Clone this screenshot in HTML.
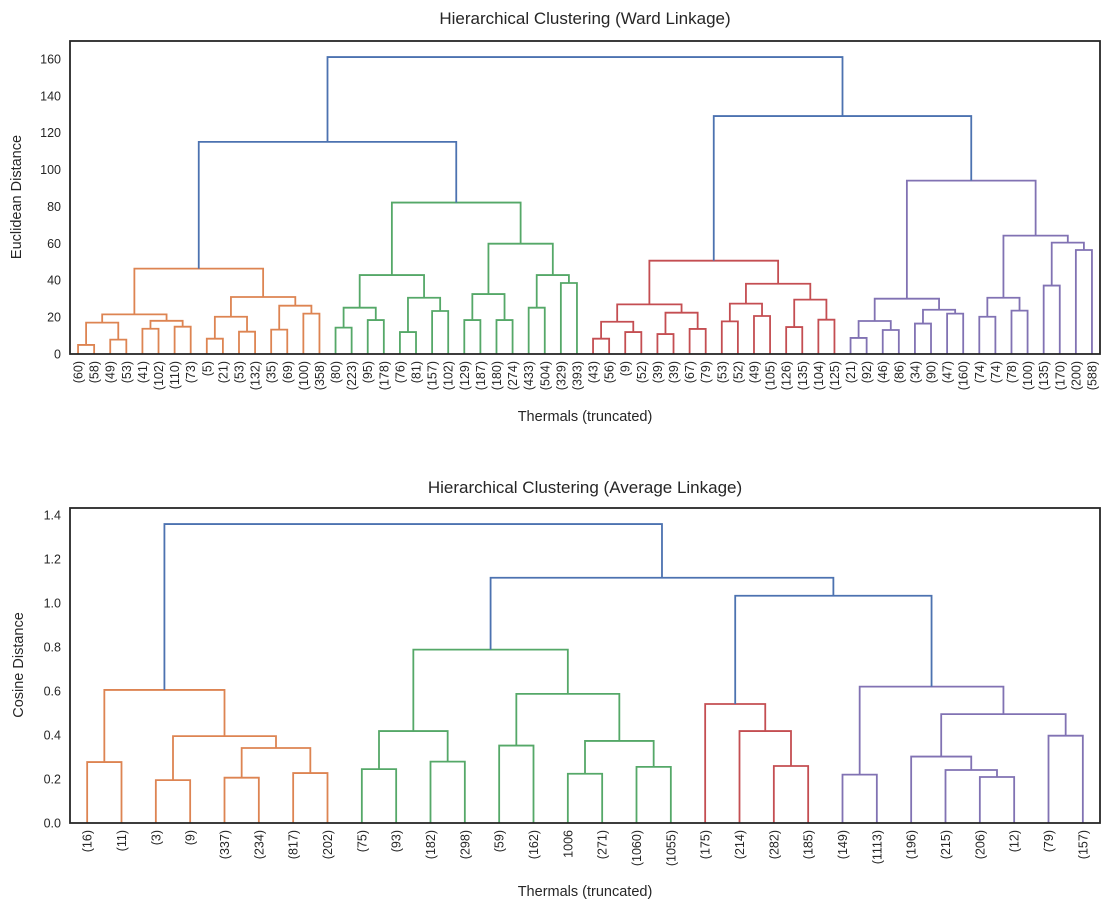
<!DOCTYPE html>
<html><head><meta charset="utf-8"><style>
body{margin:0;background:#fff;}
svg{display:block;font-family:"Liberation Sans",Arial,sans-serif;}
</style></head><body>
<svg id="chart" width="1110" height="910" viewBox="0 0 1110 910" xmlns="http://www.w3.org/2000/svg">
<text x="585" y="24" text-anchor="middle" font-size="17" fill="#262626">Hierarchical Clustering (Ward Linkage)</text>
<text transform="translate(21,197) rotate(-90)" text-anchor="middle" font-size="14.5" fill="#262626">Euclidean Distance</text>
<text x="585" y="421" text-anchor="middle" font-size="14.5" fill="#262626">Thermals (truncated)</text>
<text x="585" y="493" text-anchor="middle" font-size="17" fill="#262626">Hierarchical Clustering (Average Linkage)</text>
<text transform="translate(23,665) rotate(-90)" text-anchor="middle" font-size="14.5" fill="#262626">Cosine Distance</text>
<text x="585" y="896" text-anchor="middle" font-size="14.5" fill="#262626">Thermals (truncated)</text>
<g id="top"></g>
<g id="bot"></g>
</svg>
<script>
// ---- Ward (top) data ----
const topLabels = ["(60)","(58)","(49)","(53)","(41)","(102)","(110)","(73)","(5)","(21)","(53)","(132)","(35)","(69)","(100)","(358)",
"(80)","(223)","(95)","(178)","(76)","(81)","(157)","(102)","(129)","(187)","(180)","(274)","(433)","(504)","(329)","(393)",
"(43)","(56)","(9)","(52)","(39)","(39)","(67)","(79)","(53)","(52)","(49)","(105)","(126)","(135)","(104)","(125)",
"(21)","(92)","(46)","(86)","(34)","(90)","(47)","(160)","(74)","(74)","(78)","(100)","(135)","(170)","(200)","(588)"];
const topOrange = [46.3,[21.5,[17,[4.9,0,1],[7.8,2,3]],[18,[13.7,4,5],[14.8,6,7]]],[30.9,[20.2,[8.3,8,9],[12.1,10,11]],[26.2,[13.2,12,13],[21.9,14,15]]]];
const topGreen = [82.1,[42.8,[25.1,[14.3,16,17],[18.4,18,19]],[30.5,[11.9,20,21],[23.3,22,23]]],[59.8,[32.5,[18.4,24,25],[18.4,26,27]],[42.8,[25.1,28,29],[38.5,30,31]]]];
const topRed = [50.6,[26.9,[17.5,[8.3,32,33],[11.9,34,35]],[22.4,[10.8,36,37],[13.6,38,39]]],[38.1,[27.3,[17.7,40,41],[20.6,42,43]],[29.5,[14.6,44,45],[18.6,46,47]]]];
const topPurple = [94,[30.0,[17.9,[8.7,48,49],[13,50,51]],[24.0,[16.5,52,53],[21.9,54,55]]],[64.2,[30.5,[20.2,56,57],[23.5,58,59]],[60.4,[37.1,60,61],[56.4,62,63]]]];
const topRootHeights = [161,115,129];
const topTicks = [0,20,40,60,80,100,120,140,160];
// ---- Average (bottom) data ----
const botLabels = ["(16)","(11)","(3)","(9)","(337)","(234)","(817)","(202)",
"(75)","(93)","(182)","(298)","(59)","(162)","1006","(271)","(1060)","(1055)",
"(175)","(214)","(282)","(185)",
"(149)","(1113)","(196)","(215)","(206)","(12)","(79)","(157)"];
const botOrange = [0.605,[0.277,0,1],[0.395,[0.195,2,3],[0.341,[0.206,4,5],[0.227,6,7]]]];
const botGreen = [0.788,[0.418,[0.245,8,9],[0.279,10,11]],[0.587,[0.352,12,13],[0.373,[0.224,14,15],[0.255,16,17]]]];
const botRed = [0.541,18,[0.418,19,[0.259,20,21]]];
const botPurple = [0.620,[0.220,22,23],[0.495,[0.302,24,[0.241,25,[0.209,26,27]]],[0.397,28,29]]];
const botRootHeights = [1.359,1.115,1.033];
const botTicks = [0.0,0.2,0.4,0.6,0.8,1.0,1.2,1.4];

const COLORS = ["#dd8452","#55a868","#c44e52","#8172b3"];
const BLUE = "#4c72b0";
const NS = "http://www.w3.org/2000/svg";

function mk(parent, tag, attrs){
  const e = document.createElementNS(NS, tag);
  for (const k in attrs) e.setAttribute(k, attrs[k]);
  parent.appendChild(e);
  return e;
}

function drawDendro(g, cfg){
  const {x0,x1,y0,y1,ymax,labels,tree,thr,ticks,tickFmt,name} = cfg;
  const n = labels.length;
  const sx = i => x0 + (5 + 10*i) * (x1 - x0) / (10*n);
  const sy = v => y1 - v * (y1 - y0) / ymax;
  // ticks
  ticks.forEach(t => {
    const tx = mk(g, "text", {x: x0-9, y: sy(t)+4.5, "text-anchor":"end", "font-size":"12.5", fill:"#262626"});
    
    
    tx.textContent = tickFmt(t);
  });
  // leaf labels
  labels.forEach((lab, i) => {
    const x = sx(i);
    const tx = mk(g, "text", {transform:`translate(${x+4.5},${y1+7}) rotate(-90)`, "text-anchor":"end", "font-size":"12.5", fill:"#262626"});
    
    
    tx.textContent = lab;
  });
  let ci = 0;
  function walk(node, color){
    if (typeof node === "number") return {x: sx(node), h: 0};
    const h = node[0];
    let c = color;
    if (c === null && h < thr) { c = COLORS[ci % COLORS.length]; ci++; }
    const cc = c === null ? null : c;
    const a = walk(node[1], cc), b = walk(node[2], cc);
    const col = c === null ? BLUE : c;
    const p = mk(g, "path", {d:`M${a.x},${sy(a.h)}V${sy(h)}H${b.x}V${sy(b.h)}`, fill:"none", stroke:col, "stroke-width":"1.8"});
    
    
    return {x:(a.x+b.x)/2, h:h};
  }
  walk(tree, null);
  const fr = mk(g, "rect", {x:x0, y:y0, width:x1-x0, height:y1-y0, fill:"none", stroke:"#262626", "stroke-width":"1.8"});
  
  
}

const topTree = [topRootHeights[0],[topRootHeights[1],topOrange,topGreen],[topRootHeights[2],topRed,topPurple]];
const botTree = [botRootHeights[0],botOrange,[botRootHeights[1],botGreen,[botRootHeights[2],botRed,botPurple]]];

drawDendro(document.getElementById("top"), {x0:70,x1:1100,y0:41,y1:354,ymax:169.7,labels:topLabels,tree:topTree,thr:100,ticks:topTicks,tickFmt:t=>String(t),name:"ward"});
drawDendro(document.getElementById("bot"), {x0:70,x1:1100,y0:508,y1:823,ymax:1.432,labels:botLabels,tree:botTree,thr:0.8,ticks:botTicks,tickFmt:t=>t.toFixed(1),name:"average"});
</script>
</body></html>
